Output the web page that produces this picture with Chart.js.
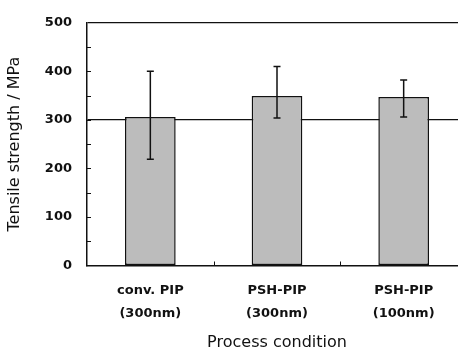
<!DOCTYPE html>
<html>
<head>
<meta charset="utf-8">
<script src="https://cdn.jsdelivr.net/npm/chart.js@4/dist/chart.umd.min.js"></script>
<style>
  html, body { margin: 0; padding: 0; background: #fff; overflow: hidden; }
  #wrap { width: 467px; height: 356px; }
</style>
</head>
<body>
<div id="wrap"><canvas id="c" width="467" height="356"></canvas></div>
<script>
// Process conditions and measured tensile strength (MPa)
const categories = [["conv. PIP", "(300nm)"], ["PSH-PIP", "(300nm)"], ["PSH-PIP", "(100nm)"]];
const strength = [306, 349, 347];
const errLow = [219, 304, 306];
const errHigh = [400, 410, 382];
const yTicks = [0, 100, 200, 300, 400, 500];
const refLine = 300;

const ink = '#111';
const fontFam = '"DejaVu Sans", Verdana, sans-serif';

// Error bars, minor ticks and category separators drawn on the chart's own scales
const extras = {
  id: 'extras',
  afterDatasetsDraw(chart) {
    const { ctx, scales: { x, y }, chartArea } = chart;
    ctx.save();
    ctx.strokeStyle = ink;
    ctx.lineWidth = 1.5;
    strength.forEach((v, i) => {
      const cx = x.getPixelForValue(i);
      const yt = y.getPixelForValue(errHigh[i]);
      const yb = y.getPixelForValue(errLow[i]);
      ctx.beginPath();
      ctx.moveTo(cx, yt); ctx.lineTo(cx, yb);
      ctx.moveTo(cx - 3.5, yt); ctx.lineTo(cx + 3.5, yt);
      ctx.moveTo(cx - 3.5, yb); ctx.lineTo(cx + 3.5, yb);
      ctx.stroke();
    });
    ctx.lineWidth = 1;
    // inward minor ticks on the value axis
    for (let v = 50; v < 500; v += 50) {
      const py = Math.round(y.getPixelForValue(v)) + 0.5;
      ctx.beginPath();
      ctx.moveTo(chartArea.left, py); ctx.lineTo(chartArea.left + 4, py);
      ctx.stroke();
    }
    // separators between categories on the base line
    for (let i = 0; i < categories.length - 1; i++) {
      const px = Math.round((x.getPixelForValue(i) + x.getPixelForValue(i + 1)) / 2) + 0.5;
      ctx.beginPath();
      ctx.moveTo(px, chartArea.bottom); ctx.lineTo(px, chartArea.bottom - 4);
      ctx.stroke();
    }
    ctx.restore();
  }
};

new Chart(document.getElementById('c'), {
  type: 'bar',
  data: {
    labels: categories,
    datasets: [{
      data: strength,
      backgroundColor: '#bcbcbc',
      borderColor: ink,
      borderWidth: 1.5,
      borderSkipped: false,
      categoryPercentage: 1,
      barPercentage: 0.4
    }]
  },
  options: {
    responsive: false,
    animation: false,
    layout: { padding: { top: 11, right: 0, bottom: 0, left: 0 } },
    plugins: { legend: { display: false }, tooltip: { enabled: false } },
    scales: {
      x: {
        grid: { display: false, drawTicks: false },
        border: { display: true, color: ink, width: 1.5 },
        ticks: {
          color: ink,
          padding: 13.5,
          font: { family: fontFam, size: 13, weight: 'bold', lineHeight: 1.75 },
          maxRotation: 0
        },
        title: {
          display: true,
          text: 'Process condition',
          color: ink,
          font: { family: fontFam, size: 16 },
          padding: { top: 10, bottom: 3.4 }
        },
        afterFit(s) { s.height = 90.5; }
      },
      y: {
        min: 0, max: 500,
        afterBuildTicks(s) { s.ticks = yTicks.map(v => ({ value: v })); },
        grid: {
          drawTicks: false,
          lineWidth: 1.2,
          color: ctx => (ctx.tick && (ctx.tick.value === refLine || ctx.tick.value === 500)) ? ink : 'rgba(0,0,0,0)'
        },
        border: { display: true, color: ink, width: 1.5 },
        ticks: {
          color: ink,
          padding: 15,
          font: { family: fontFam, size: 13, weight: 'bold' }
        },
        title: {
          display: true,
          text: 'Tensile strength / MPa',
          color: ink,
          font: { family: fontFam, size: 16 },
          padding: { top: 5.4, bottom: 4 }
        },
        afterFit(s) { s.width = 87; }
      }
    }
  },
  plugins: [extras]
});
</script>
</body>
</html>
